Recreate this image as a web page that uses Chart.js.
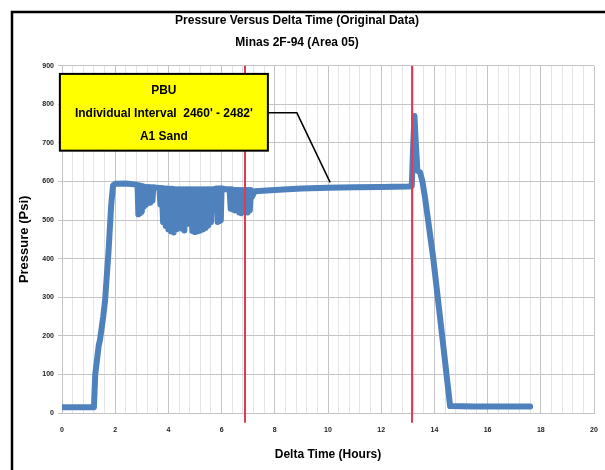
<!DOCTYPE html>
<html>
<head>
<meta charset="utf-8">
<script src="https://cdn.jsdelivr.net/npm/chart.js@4.4.1/dist/chart.umd.min.js"></script>
<style>
  body { margin: 0; background: #fff; }
  canvas { display: block; }
</style>
</head>
<body>
<canvas id="pressureChart" width="605" height="470"></canvas>
<script>
// Pression vs temps (PBU Minas 2F-94)

const hours = [
    0, 0.6, 1.2, 1.25, 1.38, 1.43, 1.55, 1.62, 1.75, 1.85, 1.92, 2.0, 2.4, 2.8,
    2.84, 2.87, 2.90, 2.93, 2.96, 3.00, 3.04, 3.08, 3.12, 3.16, 3.20, 3.24, 3.28, 3.32, 3.36, 3.40, 3.43,
    3.55, 3.66,
    3.70, 3.75, 3.80, 3.85, 3.90, 3.95, 4.00, 4.05, 4.10, 4.15, 4.20, 4.25, 4.30, 4.35, 4.40, 4.45,
    4.50, 4.55, 4.60, 4.65, 4.70, 4.75, 4.80, 4.85, 4.90, 4.95, 5.00, 5.05, 5.10, 5.15, 5.20, 5.25,
    5.30, 5.35, 5.40, 5.45, 5.50, 5.55, 5.60, 5.65, 5.68, 5.72,
    5.82, 5.85, 5.88, 5.91, 5.94, 5.97, 6.00, 6.15, 6.30,
    6.34, 6.38, 6.42, 6.46, 6.50, 6.54, 6.58, 6.62, 6.66, 6.70, 6.74, 6.78, 6.82, 6.86, 6.90, 6.94,
    6.98, 7.02, 7.06, 7.10, 7.14, 7.25,
    8, 9, 10, 11, 12, 13, 13.15,
    13.20, 13.25, 13.30, 13.36, 13.46, 13.55, 13.65, 13.95, 14.30, 14.59, 15.5, 16.5, 17.6
];

const pressure = [
    15, 15, 15, 100, 175, 190, 250, 292, 420, 540, 590, 594, 595, 592,
    590, 515, 590, 518, 588, 522, 588, 535, 586, 540, 586, 548, 586, 545, 585, 550, 585,
    584, 583,
    540, 583, 495, 582, 485, 582, 476, 581, 471, 581, 468, 580, 476, 580, 486, 580,
    478, 580, 473, 580, 499, 580, 490, 580, 472, 580, 469, 580, 471, 580, 473, 580,
    476, 580, 480, 580, 486, 580, 495, 580, 550, 580,
    582, 495, 582, 497, 582, 500, 582, 580, 580,
    530, 580, 528, 578, 525, 578, 530, 578, 520, 578, 518, 578, 522, 578, 525, 578,
    520, 578, 525, 578, 560, 575,
    578, 582, 584, 585, 586, 587, 588,
    690, 770, 700, 628, 624, 600, 557, 405, 195, 18, 17, 17, 17
];

// lignes verticales rouges (heures)
const markerHours = [6.88, 13.16];

const xTicks = [0, 2, 4, 6, 8, 10, 12, 14, 16, 18, 20];
const yTicks = [0, 100, 200, 300, 400, 500, 600, 700, 800, 900];

const chartTitle = 'Pressure Versus Delta Time (Original Data)';
const chartSubtitle = 'Minas 2F-94 (Area 05)';
const calloutLines = ['PBU', "Individual Interval  2460' - 2482'", 'A1 Sand'];

const FONT = "'Liberation Sans', Arial, sans-serif";
const MAJOR_GRID = '#c4c4c4';
const MINOR_GRID = '#e4e4e4';

function isMajorHour(v) {
    const r = Math.round(v * 10) / 10;
    return xTicks.includes(r);
}

// cadre noir + fond blanc
const framePlugin = {
    id: 'frame',
    beforeDraw(chart) {
        const ctx = chart.ctx;
        ctx.save();
        ctx.fillStyle = '#fff';
        ctx.fillRect(0, 0, chart.width, chart.height);
        ctx.strokeStyle = '#000';
        ctx.lineWidth = 2.5;
        ctx.beginPath();
        ctx.moveTo(12, chart.height);
        ctx.lineTo(12, 12);
        ctx.lineTo(chart.width, 12);
        ctx.stroke();
        ctx.restore();
    }
};

// encadré jaune + trait de rappel
const calloutPlugin = {
    id: 'callout',
    afterDatasetsDraw(chart) {
        const { ctx, scales: { x, y } } = chart;
        const left = x.getPixelForValue(-0.08);
        const right = x.getPixelForValue(7.74);
        const top = y.getPixelForValue(879);
        const bottom = y.getPixelForValue(680);
        ctx.save();
        // trait de rappel
        ctx.strokeStyle = '#000';
        ctx.lineWidth = 1.5;
        ctx.beginPath();
        ctx.moveTo(right, y.getPixelForValue(778));
        ctx.lineTo(x.getPixelForValue(8.83), y.getPixelForValue(778));
        ctx.lineTo(x.getPixelForValue(10.08), y.getPixelForValue(598));
        ctx.stroke();
        // boîte
        ctx.fillStyle = '#ffff00';
        ctx.fillRect(left, top, right - left, bottom - top);
        ctx.lineWidth = 2;
        ctx.strokeRect(left, top, right - left, bottom - top);
        // texte un peu resserré (police étroite absente)
        ctx.fillStyle = '#000';
        ctx.font = 'bold 13px ' + FONT;
        ctx.textAlign = 'center';
        ctx.textBaseline = 'middle';
        const cx = (left + right) / 2;
        const lineGap = (bottom - top) / 3.3;
        const squeeze = 0.92;
        ctx.translate(cx, 0);
        ctx.scale(squeeze, 1);
        calloutLines.forEach((txt, i) => {
            ctx.fillText(txt, 0, top + lineGap * (0.7 + i));
        });
        ctx.restore();
    }
};

function buildDatasets() {
    const points = hours.map((h, i) => ({ x: h, y: pressure[i] }));
    const sets = markerHours.map(h => ({
        data: [{ x: h, y: 900 }, { x: h, y: -25 }],
        showLine: true,
        borderColor: '#e23a55',
        borderWidth: 2,
        pointRadius: 0,
        clip: false,
        order: 0
    }));
    sets.push({
        data: points,
        showLine: true,
        borderColor: '#4f81bd',
        borderWidth: 6,
        borderCapStyle: 'round',
        borderJoinStyle: 'round',
        pointRadius: 0,
        order: 1
    });
    return sets;
}

window.onload = function() {
    const ctx = document.getElementById('pressureChart').getContext('2d');
    new Chart(ctx, {
        type: 'scatter',
        data: { datasets: buildDatasets() },
        plugins: [framePlugin, calloutPlugin],
        options: {
            responsive: false,
            animation: false,
            layout: { padding: { left: 0, right: 11, top: 0, bottom: 0 } },
            plugins: {
                legend: { display: false },
                tooltip: { enabled: false },
                title: {
                    display: true,
                    text: chartTitle,
                    color: '#000',
                    font: { family: FONT, size: 12, weight: 'bold' },
                    padding: { top: 13, bottom: 8 }
                },
                subtitle: {
                    display: true,
                    text: chartSubtitle,
                    color: '#000',
                    font: { family: FONT, size: 12, weight: 'bold' },
                    padding: { top: 0, bottom: 16 }
                }
            },
            scales: {
                x: {
                    type: 'linear',
                    min: 0,
                    max: 20,
                    afterFit: s => { s.height = 57; },
                    ticks: {
                        stepSize: 0.4,
                        autoSkip: false,
                        maxRotation: 0,
                        padding: 4,
                        color: '#222',
                        font: { family: FONT, size: 7, weight: 'bold' },
                        callback: v => isMajorHour(v) ? String(Math.round(v)) : ''
                    },
                    grid: {
                        drawTicks: true,
                        tickLength: 9,
                        tickColor: 'rgba(0,0,0,0)',
                        color: c => (c.tick && isMajorHour(c.tick.value)) ? MAJOR_GRID : MINOR_GRID
                    },
                    border: { color: MAJOR_GRID },
                    title: {
                        display: true,
                        text: 'Delta Time (Hours)',
                        color: '#000',
                        font: { family: FONT, size: 12, weight: 'bold' },
                        padding: { top: 0, bottom: 8 }
                    }
                },
                y: {
                    min: 0,
                    max: 900,
                    afterFit: s => { s.width = 62; },
                    afterBuildTicks: s => { s.ticks = yTicks.map(v => ({ value: v })); },
                    ticks: {
                        padding: 4,
                        color: '#222',
                        font: { family: FONT, size: 7, weight: 'bold' }
                    },
                    grid: { color: MAJOR_GRID, tickLength: 4 },
                    border: { color: MAJOR_GRID },
                    title: {
                        display: true,
                        text: 'Pressure (Psi)',
                        color: '#000',
                        font: { family: FONT, size: 13, weight: 'bold' },
                        padding: { top: 17, bottom: 0 }
                    }
                }
            }
        }
    });
};
</script>
</body>
</html>
